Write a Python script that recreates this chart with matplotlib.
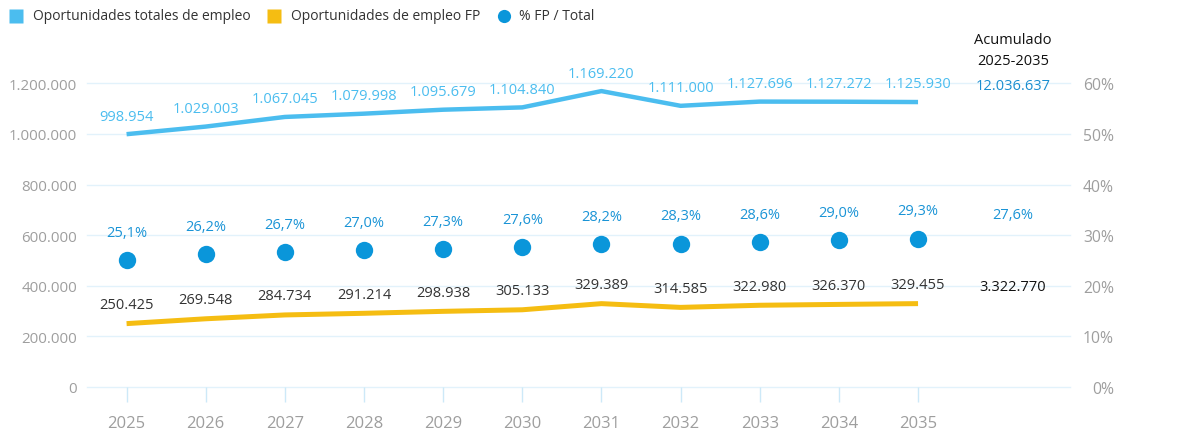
import matplotlib
matplotlib.use("Agg")
import matplotlib.pyplot as plt
from matplotlib.lines import Line2D

# ---- data ----
years = ["2025", "2026", "2027", "2028", "2029", "2030", "2031", "2032", "2033", "2034", "2035"]
total = [998954, 1029003, 1067045, 1079998, 1095679, 1104840, 1169220, 1111000, 1127696, 1127272, 1125930]
fp = [250425, 269548, 284734, 291214, 298938, 305133, 329389, 314585, 322980, 326370, 329455]
pct = [25.1, 26.2, 26.7, 27.0, 27.3, 27.6, 28.2, 28.3, 28.6, 29.0, 29.3]
cum_total = 12036637
cum_fp = 3322770
cum_pct = 27.6
cum_title = "Acumulado\n2025-2035"
left_ticks = [0, 200000, 400000, 600000, 800000, 1000000, 1200000]
right_ticks = [0, 10, 20, 30, 40, 50, 60]
legend_labels = ["Oportunidades totales de empleo", "Oportunidades de empleo FP", "% FP / Total"]

C_TOTAL = "#4BBDEF"
C_FP = "#F5BD12"
C_PCT = "#0A96DA"
C_PCT_TXT = "#1A94D6"
C_GRID = "#E2F2FB"
C_TICK = "#9E9E9E"

FONT = ["Open Sans", "DejaVu Sans"]
plt.rcParams["font.family"] = FONT


def fmt_int(v):
    return f"{int(v):,}".replace(",", ".")


def fmt_pct(v):
    return f"{v:.1f}%".replace(".", ",")


W, H = 1180, 439
fig = plt.figure(figsize=(W / 100, H / 100), dpi=100)
ax_l, ax_r = 87 / W, 1070 / W
ax_b = (H - 388) / H
ymax = 1260000
top_px = 388 - ymax / 1200000 * (388 - 84.3)
ax = fig.add_axes([ax_l, ax_b, ax_r - ax_l, (388 - top_px) / H])
ax2 = ax.twinx()

x = list(range(len(years)))
ax.set_xlim(-0.5, 11.92)
ax.set_ylim(0, ymax)
ax2.set_ylim(0, ymax / 1200000 * 60)

for a in (ax, ax2):
    for s in a.spines.values():
        s.set_visible(False)

ax.set_yticks(left_ticks)
ax.set_yticklabels([fmt_int(v) for v in left_ticks])
ax2.set_yticks(right_ticks)
ax2.set_yticklabels([f"{v}%" for v in right_ticks])
ax.tick_params(axis="y", length=0, pad=7, labelsize=10.8, labelcolor=C_TICK)
ax2.tick_params(axis="y", length=0, pad=31.7, labelsize=11.3, labelcolor=C_TICK)
for lab in ax2.get_yticklabels():
    lab.set_horizontalalignment("right")
ax.set_xticks(x)
ax.set_xticklabels(years)
ax.tick_params(axis="x", length=11, width=1, color="#CDE9F8", pad=9.5,
               labelsize=12, labelcolor=C_TICK)

for t in left_ticks:
    ax.axhline(t, color=C_GRID, lw=1, zorder=0, clip_on=False)

# lines
ax.plot(x, total, color=C_TOTAL, lw=3.2, solid_capstyle="butt", solid_joinstyle="round", zorder=3)
ax.plot(x, fp, color=C_FP, lw=3.6, solid_capstyle="butt", solid_joinstyle="round", zorder=3)
ax2.plot(x, pct, "o", color=C_PCT, ms=12.5, mec="none", zorder=4)

for xi, v in zip(x, total):
    ax.annotate(fmt_int(v), (xi, v), xytext=(0, 13), textcoords="offset points",
                ha="center", va="center", fontsize=10.5, color=C_TOTAL, clip_on=False)
for xi, v in zip(x, fp):
    ax.annotate(fmt_int(v), (xi, v), xytext=(0, 13.7), textcoords="offset points",
                ha="center", va="center", fontsize=10.5, color="#333333", clip_on=False)
for xi, v in zip(x, pct):
    ax2.annotate(fmt_pct(v), (xi, v), xytext=(0, 20), textcoords="offset points",
                 ha="center", va="center", fontsize=10.5, color=C_PCT_TXT, clip_on=False)

# cumulative column
cx = 11.2
ax.text(cx, 1190000, fmt_int(cum_total), ha="center", va="center", fontsize=10.5, color="#1A8ED0")
ax.text(cx, 1330000, cum_title, ha="center", va="center", fontsize=10.5, color="#111111",
        linespacing=1.55, clip_on=False)
ax2.text(cx, 34.0, fmt_pct(cum_pct), ha="center", va="center", fontsize=10.5, color=C_PCT_TXT)
ax.text(cx, 397000, fmt_int(cum_fp), ha="center", va="center", fontsize=10.5, color="#111111")

# legend
ly = 1 - 16.5 / H
items = [(16, 17, "s", C_TOTAL, legend_labels[0]),
         (273.5, 17.5, "s", C_FP, legend_labels[1]),
         (504, 15, "o", C_PCT, legend_labels[2])]
for px, off, m, c, lab in items:
    fig.add_artist(Line2D([px / W], [ly], marker=m, color=c, ms=9.5, mec="none",
                          transform=fig.transFigure))
    fig.text((px + off) / W, ly, lab, ha="left", va="center", fontsize=10, color="#333333")

fig.savefig("out.png", dpi=100, facecolor="white")
